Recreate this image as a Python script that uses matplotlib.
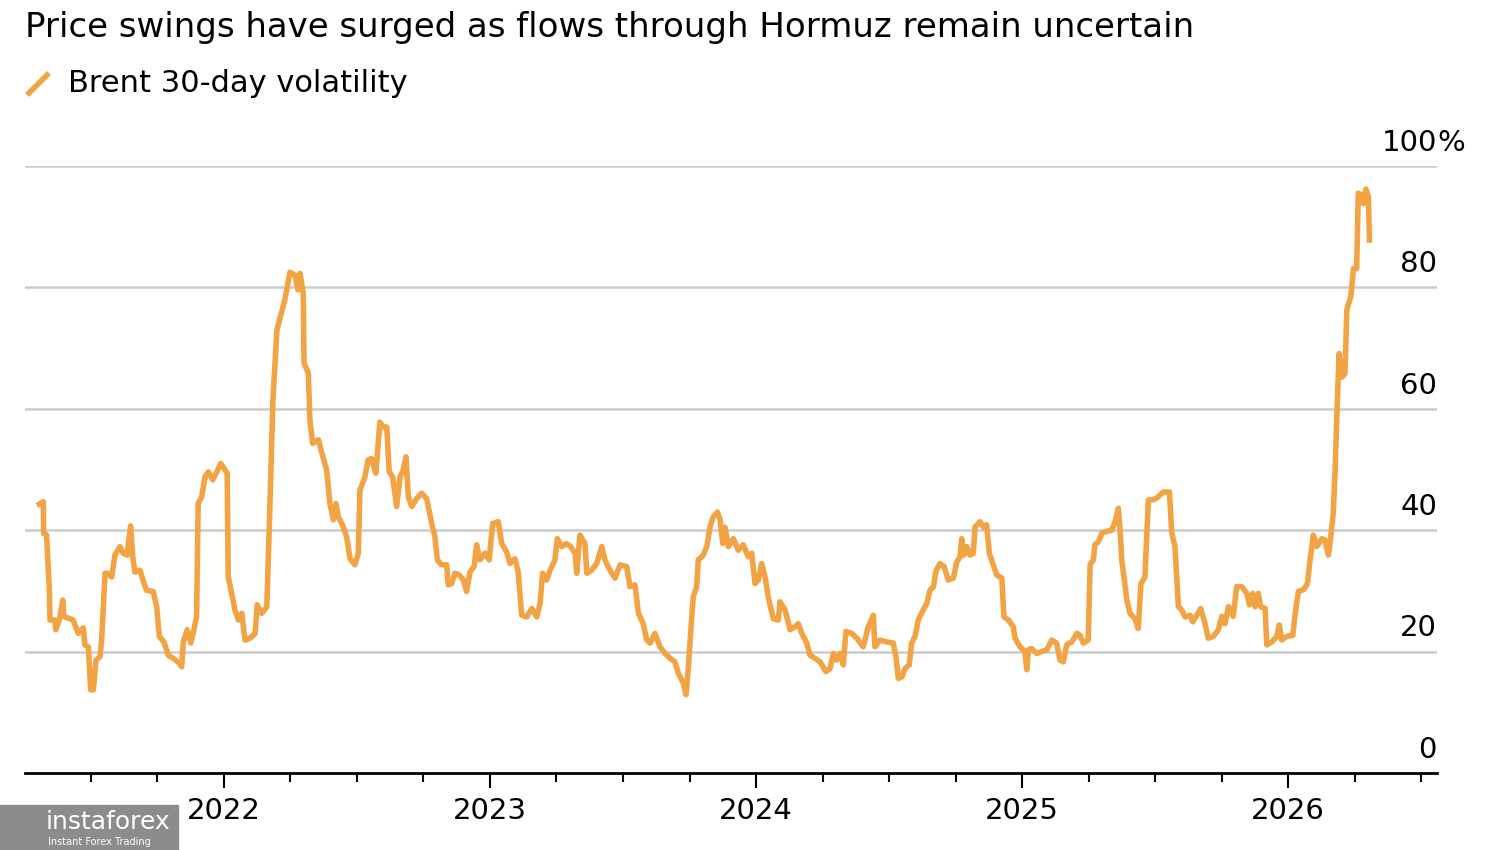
import numpy as np
import matplotlib.pyplot as plt
from matplotlib.lines import Line2D
from matplotlib.patches import Rectangle
from matplotlib.transforms import offset_copy
from matplotlib.ticker import FixedLocator, NullFormatter

plt.rcParams['font.family'] = ['DejaVu Sans']

# Brent 30-day volatility, % (dates as decimal years)
years = [
    2021.306, 2021.321, 2021.322, 2021.333, 2021.343, 2021.346, 2021.365, 2021.368, 2021.381, 2021.394,
    2021.398, 2021.433, 2021.452, 2021.471, 2021.477, 2021.490, 2021.499, 2021.509, 2021.519, 2021.534,
    2021.540, 2021.553, 2021.561, 2021.578, 2021.590, 2021.609, 2021.621, 2021.636, 2021.649, 2021.657,
    2021.665, 2021.684, 2021.699, 2021.709, 2021.734, 2021.747, 2021.757, 2021.774, 2021.791, 2021.809,
    2021.832, 2021.841, 2021.847, 2021.862, 2021.875, 2021.887, 2021.897, 2021.903, 2021.916, 2021.929,
    2021.941, 2021.958, 2021.973, 2021.988, 2022.004, 2022.012, 2022.016, 2022.029, 2022.041, 2022.054,
    2022.067, 2022.079, 2022.098, 2022.117, 2022.125, 2022.142, 2022.161, 2022.170, 2022.184, 2022.199,
    2022.229, 2022.248, 2022.267, 2022.278, 2022.286, 2022.298, 2022.301, 2022.317, 2022.323, 2022.333,
    2022.355, 2022.367, 2022.386, 2022.398, 2022.411, 2022.421, 2022.430, 2022.449, 2022.461, 2022.474,
    2022.492, 2022.505, 2022.511, 2022.530, 2022.542, 2022.555, 2022.571, 2022.586, 2022.599, 2022.612,
    2022.621, 2022.634, 2022.649, 2022.662, 2022.674, 2022.684, 2022.693, 2022.706, 2022.724, 2022.743,
    2022.762, 2022.781, 2022.793, 2022.802, 2022.818, 2022.837, 2022.843, 2022.856, 2022.868, 2022.885,
    2022.900, 2022.912, 2022.925, 2022.940, 2022.950, 2022.962, 2022.981, 2022.997, 2023.010, 2023.031,
    2023.044, 2023.063, 2023.075, 2023.094, 2023.106, 2023.119, 2023.138, 2023.157, 2023.176, 2023.188,
    2023.198, 2023.213, 2023.226, 2023.244, 2023.253, 2023.270, 2023.288, 2023.303, 2023.320, 2023.326,
    2023.338, 2023.357, 2023.364, 2023.382, 2023.401, 2023.420, 2023.432, 2023.451, 2023.470, 2023.489,
    2023.514, 2023.526, 2023.545, 2023.558, 2023.576, 2023.589, 2023.602, 2023.620, 2023.639, 2023.658,
    2023.677, 2023.695, 2023.708, 2023.727, 2023.737, 2023.746, 2023.755, 2023.764, 2023.777, 2023.783,
    2023.802, 2023.815, 2023.827, 2023.839, 2023.855, 2023.865, 2023.875, 2023.883, 2023.896, 2023.915,
    2023.933, 2023.952, 2023.971, 2023.984, 2023.996, 2024.009, 2024.021, 2024.034, 2024.046, 2024.065,
    2024.084, 2024.090, 2024.109, 2024.128, 2024.147, 2024.159, 2024.172, 2024.191, 2024.203, 2024.222,
    2024.241, 2024.263, 2024.278, 2024.291, 2024.303, 2024.316, 2024.328, 2024.338, 2024.360, 2024.379,
    2024.403, 2024.422, 2024.441, 2024.447, 2024.466, 2024.491, 2024.516, 2024.526, 2024.535, 2024.548,
    2024.560, 2024.576, 2024.585, 2024.598, 2024.610, 2024.629, 2024.642, 2024.654, 2024.667, 2024.677,
    2024.692, 2024.707, 2024.723, 2024.742, 2024.755, 2024.767, 2024.773, 2024.782, 2024.792, 2024.805,
    2024.817, 2024.823, 2024.842, 2024.855, 2024.867, 2024.877, 2024.890, 2024.905, 2024.924, 2024.932,
    2024.949, 2024.967, 2024.974, 2024.992, 2025.011, 2025.018, 2025.024, 2025.036, 2025.055, 2025.074,
    2025.093, 2025.112, 2025.130, 2025.143, 2025.155, 2025.168, 2025.187, 2025.206, 2025.218, 2025.230,
    2025.249, 2025.256, 2025.268, 2025.274, 2025.287, 2025.300, 2025.318, 2025.337, 2025.350, 2025.362,
    2025.368, 2025.375, 2025.394, 2025.406, 2025.425, 2025.437, 2025.447, 2025.462, 2025.475, 2025.494,
    2025.512, 2025.531, 2025.554, 2025.563, 2025.575, 2025.588, 2025.600, 2025.613, 2025.632, 2025.642,
    2025.657, 2025.672, 2025.688, 2025.700, 2025.719, 2025.738, 2025.751, 2025.763, 2025.776, 2025.794,
    2025.807, 2025.826, 2025.845, 2025.855, 2025.867, 2025.876, 2025.888, 2025.897, 2025.914, 2025.920,
    2025.939, 2025.958, 2025.967, 2025.976, 2025.995, 2026.018, 2026.026, 2026.039, 2026.058, 2026.073,
    2026.083, 2026.095, 2026.108, 2026.127, 2026.139, 2026.152, 2026.158, 2026.170, 2026.177, 2026.185,
    2026.192, 2026.202, 2026.214, 2026.221, 2026.236, 2026.246, 2026.258, 2026.264, 2026.277, 2026.283,
    2026.293, 2026.302, 2026.306,
]
vol = [
    44.3, 44.7, 39.5, 39.2, 30.7, 25.2, 25.2, 23.6, 25.2, 28.5,
    25.8, 25.2, 23.0, 23.9, 21.1, 20.8, 13.7, 13.7, 18.6, 19.2,
    21.9, 32.9, 32.9, 32.3, 35.9, 37.3, 36.2, 35.9, 40.7, 35.6,
    33.1, 33.4, 31.3, 30.1, 29.9, 27.4, 22.5, 21.6, 19.4, 18.9,
    18.1, 17.5, 21.6, 23.6, 21.4, 23.6, 25.8, 44.4, 45.5, 48.8,
    49.6, 48.3, 49.6, 51.0, 49.9, 49.4, 32.3, 29.6, 26.9, 25.2,
    26.3, 21.9, 22.2, 23.0, 27.7, 26.3, 27.4, 40.0, 61.4, 73.0,
    78.0, 82.5, 82.0, 79.6, 82.3, 79.0, 67.5, 65.9, 58.2, 54.3,
    54.9, 52.9, 49.9, 44.4, 41.7, 44.4, 42.2, 40.5, 38.9, 35.3,
    34.3, 36.2, 46.6, 48.8, 51.6, 51.8, 49.4, 57.8, 57.0, 57.0,
    49.6, 48.8, 43.9, 48.8, 49.9, 52.1, 45.5, 43.9, 45.2, 46.1,
    45.2, 41.1, 38.9, 35.1, 34.3, 34.3, 31.0, 31.2, 32.9, 32.6,
    31.8, 29.9, 33.1, 34.0, 37.6, 35.1, 36.2, 35.1, 41.1, 41.4,
    37.8, 36.4, 34.5, 35.3, 33.1, 26.0, 25.7, 27.1, 25.7, 27.9,
    32.9, 31.8, 33.4, 35.1, 38.6, 37.3, 37.8, 37.3, 36.2, 32.9,
    39.2, 37.8, 32.9, 33.4, 34.5, 37.3, 35.1, 33.4, 32.1, 34.3,
    34.0, 30.7, 31.0, 26.3, 24.6, 21.9, 21.4, 23.0, 20.8, 19.7,
    18.9, 18.3, 16.4, 14.8, 12.9, 17.5, 23.6, 29.0, 30.7, 35.1,
    35.9, 37.3, 40.5, 42.2, 43.0, 41.7, 37.8, 40.5, 37.3, 38.6,
    36.7, 37.6, 35.6, 36.2, 31.2, 31.8, 34.5, 32.3, 29.0, 25.4,
    25.2, 28.2, 26.9, 23.6, 24.1, 24.6, 23.0, 21.4, 19.4, 18.9,
    18.3, 16.7, 17.2, 19.7, 18.6, 19.7, 17.8, 23.3, 23.0, 22.2,
    20.8, 24.1, 26.0, 20.8, 21.9, 21.6, 21.4, 19.2, 15.6, 15.8,
    17.2, 17.8, 21.4, 22.5, 25.2, 26.9, 27.9, 30.1, 30.7, 33.4,
    34.5, 34.0, 31.8, 32.1, 34.8, 35.6, 38.6, 35.9, 37.3, 35.9,
    36.2, 40.5, 41.4, 40.5, 40.9, 36.2, 34.5, 32.6, 32.1, 25.7,
    25.2, 24.1, 22.2, 20.8, 20.0, 17.0, 20.3, 20.5, 19.7, 20.0,
    20.3, 21.9, 21.4, 18.6, 18.3, 21.1, 21.6, 23.0, 22.7, 21.4,
    21.9, 34.3, 35.1, 37.6, 38.1, 39.5, 39.8, 40.0, 41.4, 43.6,
    40.5, 35.1, 28.5, 26.3, 25.4, 23.8, 31.2, 32.3, 45.0, 45.0,
    45.5, 46.3, 46.3, 39.5, 37.3, 27.4, 26.9, 25.7, 26.0, 24.9,
    26.0, 27.1, 24.6, 22.2, 22.5, 23.6, 25.8, 24.6, 27.4, 25.8,
    30.7, 30.7, 29.6, 27.7, 29.6, 27.4, 29.6, 27.4, 27.1, 21.1,
    21.6, 22.5, 24.4, 21.9, 22.5, 22.7, 26.0, 29.9, 30.2, 31.2,
    35.1, 39.2, 37.3, 38.6, 38.4, 35.9, 37.8, 42.8, 49.9, 60.9,
    69.1, 65.2, 65.8, 76.3, 78.5, 83.1, 83.1, 95.5, 95.2, 93.8,
    96.2, 94.9, 87.8,
]

year_ticks = [2022, 2023, 2024, 2025, 2026]
y_ticks = [0, 20, 40, 60, 80, 100]

line_color = '#F2A444'
grid_color = '#cccccc'

fig = plt.figure(figsize=(15, 8.5), dpi=100)
ax = fig.add_axes([25 / 1500, 1 - 773 / 850, (1437 - 25) / 1500, (773 - 166) / 850])

x_min, x_max = 2021.252, 2026.560
ax.set_xlim(x_min, x_max)
ax.set_ylim(0, 100)

for v in y_ticks[1:]:
    ax.axhline(v, color=grid_color, lw=1.8, zorder=1)

ax.plot(years, vol, color=line_color, lw=4.0, solid_joinstyle='round', zorder=3)

for s in ['top', 'right', 'left']:
    ax.spines[s].set_visible(False)
ax.spines['bottom'].set_linewidth(2)
ax.spines['bottom'].set_zorder(4)

ax.set_yticks([])
ax.xaxis.set_major_locator(FixedLocator(year_ticks))
ax.set_xticklabels([str(y) for y in year_ticks])
quarters = [y + q for y in range(2021, 2027) for q in (0.25, 0.5, 0.75)]
quarters = [q for q in quarters if x_min < q < x_max]
ax.xaxis.set_minor_locator(FixedLocator(quarters))
ax.xaxis.set_minor_formatter(NullFormatter())
ax.tick_params(axis='x', which='major', length=11, width=1.5, pad=6, labelsize=21, colors='black')
ax.tick_params(axis='x', which='minor', length=6.5, width=1.5)

lab_tr = offset_copy(ax.transData, fig=fig, x=0, y=11, units='points')
for v in y_ticks:
    ax.text(x_max, v, str(v), transform=lab_tr, ha='right', va='baseline', fontsize=21, clip_on=False)
ax.text(x_max, 100, '%', transform=lab_tr, ha='left', va='baseline', fontsize=21, clip_on=False)

fig.text(25 / 1500, 1 - 37 / 850, 'Price swings have surged as flows through Hormuz remain uncertain',
         fontsize=24.5, ha='left', va='baseline')
fig.text(68 / 1500, 1 - 92 / 850, 'Brent 30-day volatility', fontsize=22, ha='left', va='baseline')
fig.add_artist(Line2D([27 / 1500, 49 / 1500], [1 - 95 / 850, 1 - 73 / 850],
                      color=line_color, lw=4, solid_capstyle='butt'))

# watermark box
fig.add_artist(Rectangle((0, 0), 178 / 1500, 45 / 850, transform=fig.transFigure,
                         color='#8c8c8c', zorder=5))
fig.text(46 / 1500, 1 - 822 / 850, 'instaforex', color='white', fontsize=18, ha='left',
         va='center', zorder=6)
fig.text(48 / 1500, 1 - 842 / 850, 'Instant Forex Trading', color='white', fontsize=7, ha='left',
         va='center', zorder=6)

fig.savefig('out.png', dpi=100, facecolor='white')
